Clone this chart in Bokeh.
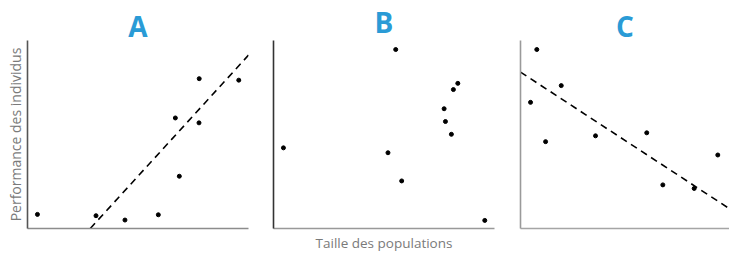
from bokeh.plotting import figure
from bokeh.models import Range1d
from bokeh.layouts import row
from bokeh.embed import file_html
from bokeh.resources import INLINE

# ---- data (arbitrary units 0-10) ----
panel_letters = ["A", "B", "C"]
x_label = "Taille des populations"
y_label = "Performance des individus"

a_x = [0.45, 3.10, 4.41, 5.92, 6.69, 6.87, 7.77, 7.76, 9.56]
a_y = [0.75, 0.68, 0.45, 0.73, 5.88, 2.78, 7.97, 5.62, 7.89]
a_fit_x = [2.84, 10.0]
a_fit_y = [0.0, 9.22]

b_x = [0.45, 5.18, 5.53, 5.80, 7.72, 7.78, 8.05, 8.14, 8.34, 9.56]
b_y = [4.29, 4.03, 9.52, 2.53, 6.37, 5.69, 5.01, 7.39, 7.72, 0.43]

c_x = [0.78, 0.48, 1.20, 1.95, 3.59, 6.04, 6.81, 8.31, 9.44]
c_y = [9.52, 6.71, 4.62, 7.60, 4.93, 5.09, 2.32, 2.13, 3.91]
c_fit_x = [0.0, 9.89]
c_fit_y = [8.32, 1.13]

FONT = "Open Sans"
TITLE_COLOR = "#2a9bd6"
TEXT_COLOR = "#7a7a7a"
H = 254
TOP = 39
BOTTOM = 24


def make_panel(xs, ys, fit_x, fit_y, width, b_left, b_right,
               left_color, bottom_color, letter, letter_offset,
               letter_standoff):
    p = figure(width=width, height=H, x_range=Range1d(0, 10),
               y_range=Range1d(0, 10), output_backend="svg",
               toolbar_location=None, title=letter,
               min_border_left=b_left, min_border_right=b_right,
               min_border_top=TOP, min_border_bottom=BOTTOM)
    p.outline_line_color = None
    p.grid.visible = False
    p.background_fill_color = "white"
    p.border_fill_color = "white"
    p.title.align = "center"
    p.title.offset = letter_offset
    p.title.standoff = letter_standoff
    p.title.text_font = FONT
    p.title.text_font_style = "bold"
    p.title.text_font_size = "28px"
    p.title.text_color = TITLE_COLOR
    for ax in (p.xaxis[0], p.yaxis[0]):
        ax.ticker = []
        ax.major_tick_line_color = None
        ax.minor_tick_line_color = None
        ax.major_tick_out = 0
        ax.minor_tick_out = 0
        ax.major_label_standoff = 0
        ax.major_label_text_font_size = "0px"
        ax.axis_line_width = 1.6
        ax.axis_label_text_font = FONT
        ax.axis_label_text_font_style = "normal"
        ax.axis_label_text_color = TEXT_COLOR
        ax.axis_label_text_line_height = 1.0
    p.yaxis[0].axis_line_color = left_color
    p.xaxis[0].axis_line_color = bottom_color

    if fit_x is not None:
        p.line(fit_x, fit_y, line_color="black", line_width=1.6,
               line_dash="7 5")
    p.scatter(xs, ys, size=4, color="black")
    return p


pa = make_panel(a_x, a_y, a_fit_x, a_fit_y, 258, 27, 10,
                "#555555", "#8c8c8c", panel_letters[0], 3.5, -8)
pb = make_panel(b_x, b_y, None, None, 247, 15, 11,
                "#333333", "#999999", panel_letters[1], 9.5, 0)
pc = make_panel(c_x, c_y, c_fit_x, c_fit_y, 224, 15, 0,
                "#9a9a9a", "#a5a5a5", panel_letters[2], 7.5, -8)

pa.yaxis[0].axis_label = y_label
pa.yaxis[0].axis_label_text_font_size = "14px"
pa.yaxis[0].axis_label_standoff = 3
pb.xaxis[0].axis_label = x_label
pb.xaxis[0].axis_label_text_font_size = "13.5px"
pb.xaxis[0].axis_label_standoff = 5

layout = row(pa, pb, pc, spacing=0)
open("out.html", "w").write(file_html(layout, INLINE))
